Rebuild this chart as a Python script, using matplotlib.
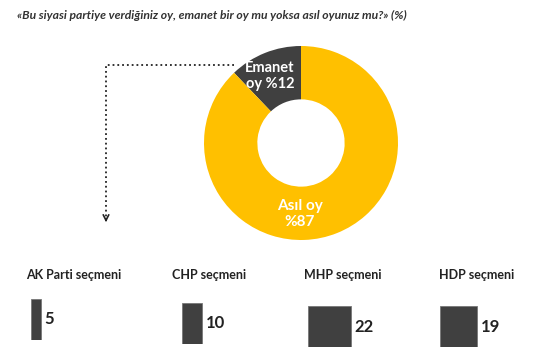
import matplotlib.pyplot as plt

# Data
title = "«Bu siyasi partiye verdiğiniz oy, emanet bir oy mu yoksa asıl oyunuz mu?» (%)"
slice_labels = ["Emanet\noy %12", "Asıl oy\n%87"]
slice_values = [12, 87]
parties = ["AK Parti seçmeni", "CHP seçmeni", "MHP seçmeni", "HDP seçmeni"]
party_values = [5, 10, 22, 19]

dark = "#404040"
yellow = "#FFC000"
plt.rcParams['font.family'] = ['Lato', 'DejaVu Sans']

W, H = 554, 351
fig = plt.figure(figsize=(W / 100, H / 100), dpi=100)

def px_axes(x0, y0, w, h):
    # axes from pixel box (top-left origin)
    return fig.add_axes([x0 / W, 1 - (y0 + h) / H, w / W, h / H])

# Donut
cx, cy, r = 301, 143, 97
pax = px_axes(cx - r, cy - r, 2 * r, 2 * r)
pax.pie(slice_values, startangle=90, counterclock=True, colors=[dark, yellow],
        wedgeprops=dict(width=0.55, edgecolor='none'))
pax.set_xlim(-1, 1)
pax.set_ylim(-1, 1)
pax.set_aspect('equal')

# overlay in pixel coordinates for text and arrow
ov = fig.add_axes([0, 0, 1, 1])
ov.set_xlim(0, W)
ov.set_ylim(H, 0)
ov.axis('off')

ov.text(17, 15, title, fontsize=8.7, fontweight='bold', fontstyle='italic',
        color='#333333', ha='left', va='center')
ov.text(270, 76, slice_labels[0], fontsize=10.5, fontweight='bold', color='white',
        ha='center', va='center', linespacing=1.25)
ov.text(300, 214, slice_labels[1], fontsize=11, fontweight='bold', color='white',
        ha='center', va='center', linespacing=1.25)

ov.plot([234, 106, 106], [65, 65, 220], ls=':', color='#222222', lw=1.3)
ov.annotate('', xy=(106, 225), xytext=(106, 216),
            arrowprops=dict(arrowstyle='->', color='#222222', lw=1.2))

# Party bars
label_x = [74, 209, 343, 477]
bar_x = [31, 182, 308, 440]
bar_y = [299, 303, 306, 306]
unit = 1.95  # pixels per percentage point
for name, val, lx, bx, by in zip(parties, party_values, label_x, bar_x, bar_y):
    ov.text(lx, 275, name, fontsize=9, fontweight='bold', color='#222222',
            ha='center', va='center')
    bax = px_axes(bx, by, 60, 41)
    bax.barh(0, val, height=1, left=0, align='edge', color=dark, edgecolor='#777777', lw=0.6)
    bax.set_xlim(0, 60 / unit)
    bax.set_ylim(0, 1)
    bax.axis('off')
    bax.text(val + 2, 0.5, str(val), fontsize=12, fontweight='bold', color='#222222',
             ha='left', va='center')

fig.savefig('out.png', dpi=100, facecolor='white')
